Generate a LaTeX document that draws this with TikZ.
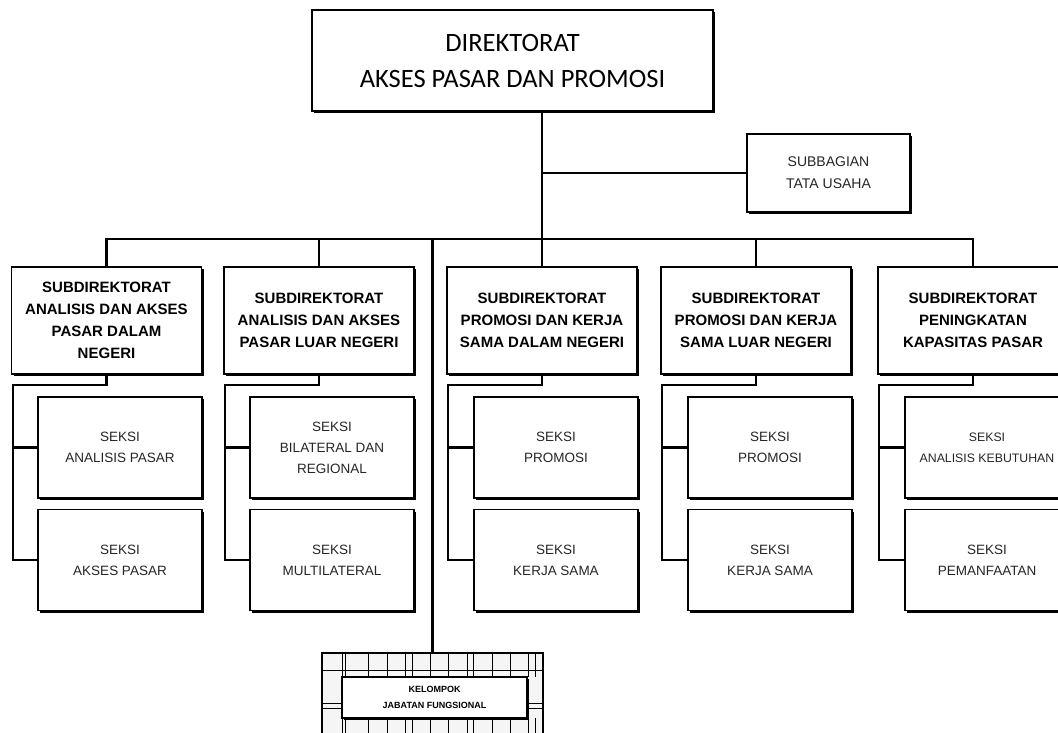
\documentclass[tikz,border=0pt]{standalone}
\usepackage{fontspec}
\setmainfont{Liberation Sans}
\newfontfamily\calibri{Carlito}
\usetikzlibrary{positioning, shadows}

\begin{document}
\begin{tikzpicture}[
        x=1pt, y=-1pt,
        kotak/.style={draw, line width=1.6pt, fill=white, align=center, inner sep=2pt,
            drop shadow={shadow xshift=2.2pt, shadow yshift=-2.2pt, opacity=1, fill=black}},
        subdit/.style={kotak, minimum width=190pt, minimum height=107pt,
            font=\fontsize{15}{22}\selectfont\bfseries},
        seksi/.style={kotak, minimum width=164pt, minimum height=101pt,
            font=\fontsize{13.5}{21}\selectfont\color{black!85}},
        garis/.style={draw, line width=2.2pt}
    ]

    \clip (0,0) rectangle (1058,733);

    % Direktorat (top)
    \node[kotak, minimum width=401pt, minimum height=101pt,
          font=\calibri\fontsize{26.5}{36}\selectfont] (dir) at (512.5,60.5)
        {DIREKTORAT\\AKSES PASAR DAN PROMOSI};

    % Subbagian Tata Usaha
    \node[kotak, minimum width=163pt, minimum height=78pt,
          font=\fontsize{14}{22}\selectfont\color{black!85}] (tu) at (828.5,173)
        {SUBBAGIAN\\TATA USAHA};

    % Subdirektorat
    \node[subdit] (sub1) at (106.5,320.5) {SUBDIREKTORAT\\ANALISIS DAN AKSES\\PASAR DALAM\\NEGERI};
    \node[subdit] (sub2) at (319,320.5) {SUBDIREKTORAT\\ANALISIS DAN AKSES\\PASAR LUAR NEGERI};
    \node[subdit] (sub3) at (542,320.5) {SUBDIREKTORAT\\PROMOSI DAN KERJA\\SAMA DALAM NEGERI};
    \node[subdit] (sub4) at (756,320.5) {SUBDIREKTORAT\\PROMOSI DAN KERJA\\SAMA LUAR NEGERI};
    \node[subdit] (sub5) at (973,320.5) {SUBDIREKTORAT\\PENINGKATAN\\KAPASITAS PASAR};

    % Seksi
    \node[seksi] (ska1) at (120,447.5) {SEKSI\\ANALISIS PASAR};
    \node[seksi] (skb1) at (120,560) {SEKSI\\AKSES PASAR};
    \node[seksi] (ska2) at (332,447.5) {SEKSI\\BILATERAL DAN\\REGIONAL};
    \node[seksi] (skb2) at (332,560) {SEKSI\\MULTILATERAL};
    \node[seksi] (ska3) at (556,447.5) {SEKSI\\PROMOSI};
    \node[seksi] (skb3) at (556,560) {SEKSI\\KERJA SAMA};
    \node[seksi] (ska4) at (770,447.5) {SEKSI\\PROMOSI};
    \node[seksi] (skb4) at (770,560) {SEKSI\\KERJA SAMA};
    \node[seksi, font=\fontsize{12.3}{21}\selectfont\color{black!85}] (ska5) at (987,447.5) {SEKSI\\ANALISIS KEBUTUHAN};
    \node[seksi] (skb5) at (987,560) {SEKSI\\PEMANFAATAN};

    % Kelompok Jabatan Fungsional
    \node[draw, line width=1.4pt, fill=black!4, minimum width=221pt, minimum height=82pt] (kjf) at (432.5,694) {};
    \foreach \x in {342,345,368,387,405,412,430,448,467,473,492,510,528,535} {
        \draw[line width=1pt] (\x,653) -- (\x,677);
        \draw[line width=1pt] (\x,718) -- (\x,735);
    }
    \draw[line width=1pt] (kjf.west |- 0,670) -- (kjf.east |- 0,670);
    \draw[line width=1pt] (kjf.west |- 0,703) -- (342,703) (527,703) -- (kjf.east |- 0,703);
    \draw[line width=1pt] (kjf.west |- 0,708) -- (342,708) (527,708) -- (kjf.east |- 0,708);
    \node[kotak, line width=1.4pt, minimum width=185pt, minimum height=41pt,
          font=\fontsize{9}{16}\selectfont\bfseries] (kjfin) at (434.5,697.5)
        {KELOMPOK\\JABATAN FUNGSIONAL};

    % Connectors
    \coordinate (bus) at (0,239);
    \draw[garis] (dir.south -| sub3.north) -- (sub3.north);
    \draw[garis] (sub3.north |- tu.west) -- (tu.west);
    \draw[garis] (sub1.north) -- (sub1.north |- bus) -- (sub5.north |- bus) -- (sub5.north);
    \draw[garis] (sub2.north) -- (sub2.north |- bus);
    \draw[garis] (sub4.north) -- (sub4.north |- bus);
    \draw[garis] (kjf.north) -- (kjf.north |- bus);
    \foreach \i in {1,...,5} {
        \draw[garis] (sub\i.south) -- ++(0,10) -| ([xshift=2pt]sub\i.west |- skb\i.west) -- (skb\i.west);
        \draw[garis] ([xshift=2pt]sub\i.west |- ska\i.west) -- (ska\i.west);
    }

\end{tikzpicture}
\end{document}
